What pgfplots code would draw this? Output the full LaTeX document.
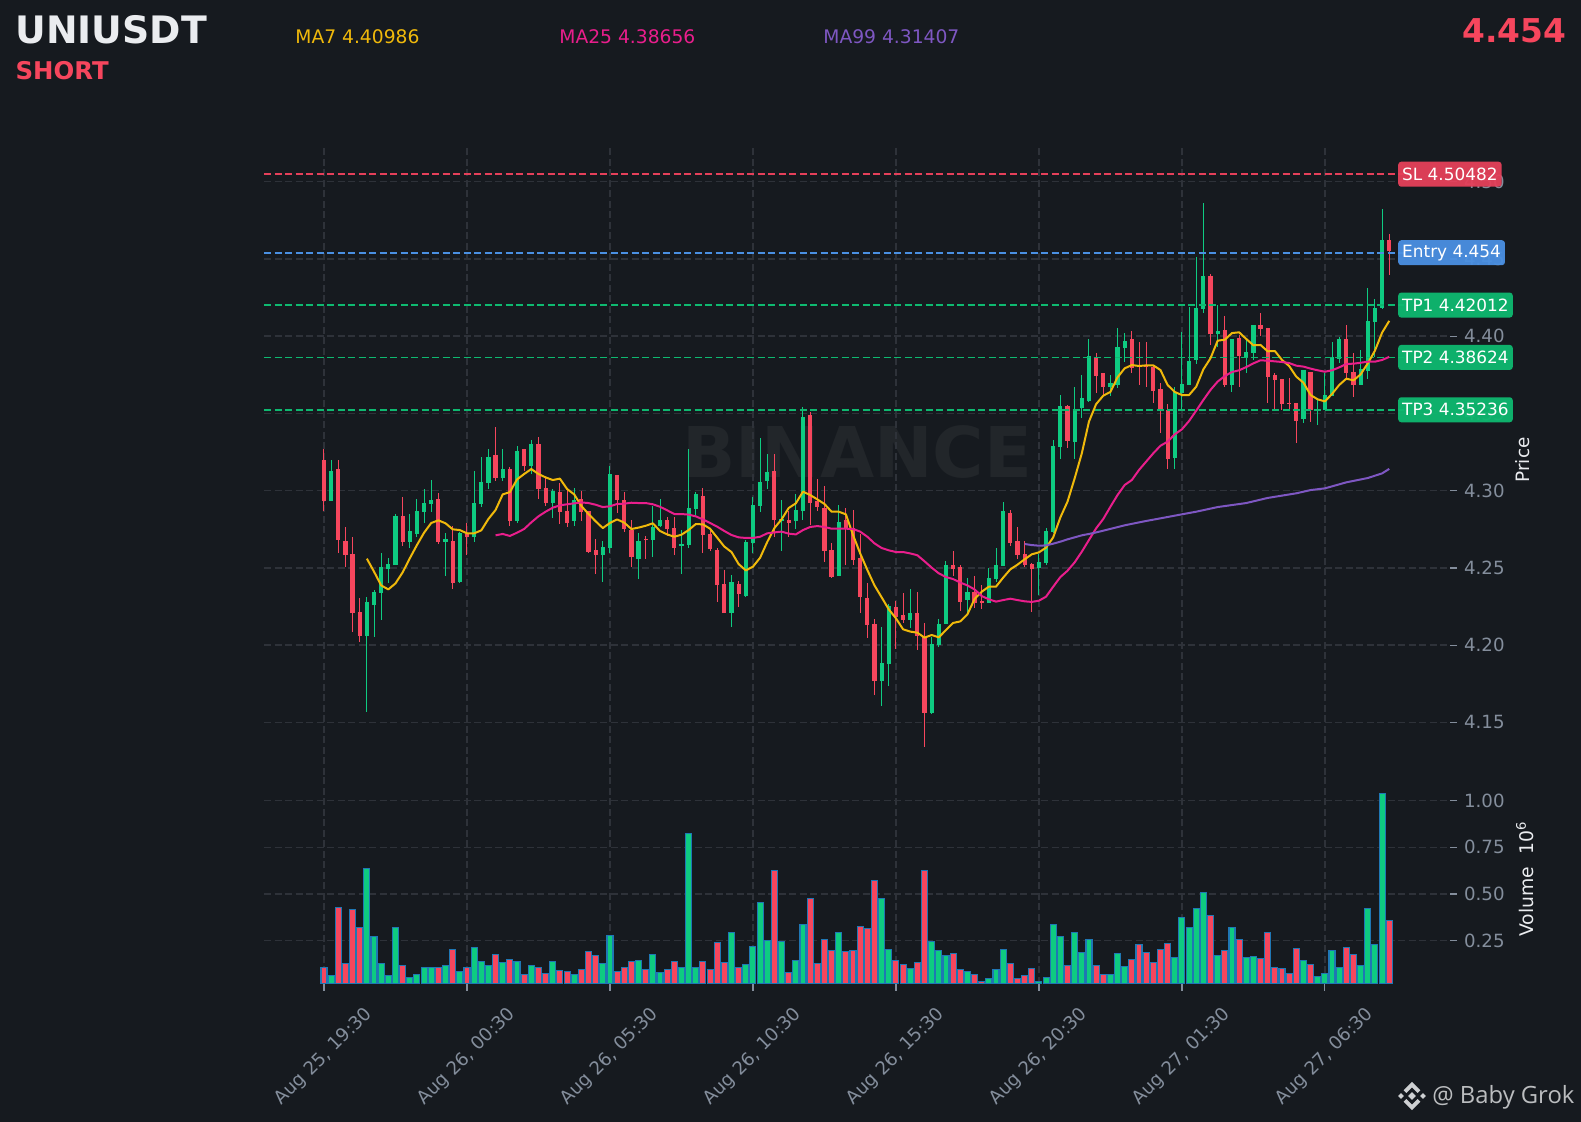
\documentclass[border=0pt]{standalone}
\usepackage{pgfplots}
\pgfplotsset{compat=1.18}
\usepackage{pgfplotstable}
\usepackage{fontspec}
\setmainfont{DejaVu Sans}
\newfontfamily\wmfont{Open Sans}
\definecolor{bgc}{HTML}{161A1F}
\definecolor{gridc}{HTML}{2E3239}
\definecolor{tickc}{HTML}{848E9C}
\definecolor{upc}{HTML}{0ECB81}
\definecolor{downc}{HTML}{F6465D}
\definecolor{edgec}{HTML}{1F77B4}
\definecolor{ma7c}{HTML}{F0B90B}
\definecolor{ma25c}{HTML}{E91E8C}
\definecolor{ma99c}{HTML}{7E57C2}
\definecolor{entryc}{HTML}{4A90E2}
\definecolor{tpc}{HTML}{0EB970}
\definecolor{slc}{HTML}{E5405A}
\definecolor{wmc}{HTML}{22262A}
\definecolor{titlec}{HTML}{EAECEF}
\def\fs#1{\fontsize{#1pt}{#1pt}\selectfont}

% index open high low close volume (volume in millions)
\pgfplotstableread{
i o h l c v
1 4.2935 4.3198 4.2935 4.3127 .0625
6 4.2059 4.2314 4.1565 4.2279 .6375
7 4.2260 4.2355 4.2051 4.2344 .273
8 4.2340 4.2594 4.2165 4.2506 .129
9 4.2493 4.2562 4.2405 4.2525 .0625
10 4.2519 4.2849 4.2519 4.2836 .321
12 4.2668 4.2847 4.2627 4.2739 .052
13 4.2720 4.2944 4.2702 4.2868 .068
14 4.2862 4.3009 4.2793 4.2920 .105
15 4.2914 4.3069 4.2864 4.2940 .105
17 4.2668 4.2724 4.2450 4.2687 .118
19 4.2409 4.2732 4.2405 4.2726 .086
21 4.2700 4.3127 4.2670 4.2920 .214
22 4.2914 4.3216 4.2896 4.3056 .139
23 4.3050 4.3268 4.3009 4.3218 .118
25 4.3082 4.3268 4.3065 4.3140 .134
27 4.2804 4.3287 4.2793 4.3257 .139
29 4.3160 4.3326 4.3106 4.3302 .118
32 4.2920 4.3009 4.2825 4.2998 .139
35 4.2804 4.3015 4.2773 4.2940 .070
39 4.2584 4.2674 4.2411 4.2635 .129
40 4.2631 4.3162 4.2594 4.3108 .279
44 4.2558 4.2724 4.2426 4.2674 .145
46 4.2681 4.2901 4.2573 4.2765 .177
47 4.2771 4.2944 4.2767 4.2810 .080
50 4.2642 4.2745 4.2463 4.2655 .107
51 4.2648 4.3268 4.2627 4.2888 .825
52 4.2881 4.2989 4.2843 4.2978 .107
57 4.2208 4.2452 4.2115 4.2409 .295
59 4.2318 4.2681 4.2314 4.2668 .123
60 4.2661 4.2957 4.2594 4.2907 .220
61 4.2901 4.3339 4.2864 4.3056 .455
62 4.3063 4.3235 4.3009 4.3121 .252
64 4.2804 4.2937 4.2612 4.2814 .246
66 4.2804 4.2976 4.2754 4.2875 .145
67 4.2868 4.3539 4.2808 4.3477 .3375
72 4.2448 4.2905 4.2448 4.2797 .295
78 4.1768 4.2120 4.1608 4.1885 .477
79 4.1878 4.2264 4.1738 4.2254 .204
82 4.2163 4.2361 4.2111 4.2208 .102
85 4.1561 4.2055 4.1552 4.2008 .246
86 4.2001 4.2167 4.1990 4.2137 .198
87 4.2137 4.2543 4.2137 4.2519 .171
90 4.2292 4.2433 4.2195 4.2344 .086
93 4.2273 4.2497 4.2273 4.2435 .048
94 4.2428 4.2627 4.2407 4.2519 .096
95 4.2512 4.2924 4.2512 4.2868 .204
100 4.2499 4.2588 4.2323 4.2538 .032
101 4.2532 4.2756 4.2521 4.2739 .054
102 4.2732 4.3328 4.2724 4.3289 .3375
103 4.3283 4.3620 4.3205 4.3548 .273
105 4.3317 4.3669 4.3205 4.3528 .295
106 4.3533 4.3749 4.3468 4.3600 .1875
107 4.3580 4.3980 4.3576 4.3872 .257
110 4.3671 4.3747 4.3615 4.3697 .070
111 4.3684 4.4050 4.3667 4.3930 .182
112 4.3924 4.4018 4.3835 4.3969 .1125
119 4.3211 4.3669 4.3138 4.3639 .161
120 4.3632 4.4029 4.3522 4.3690 .375
121 4.3684 4.4187 4.3684 4.3839 .321
122 4.3846 4.4510 4.3818 4.4182 .423
123 4.4176 4.4860 4.4148 4.4389 .509
125 4.4014 4.4202 4.3932 4.4033 .171
127 4.3684 4.3982 4.3636 4.3982 .321
129 4.3865 4.3975 4.3764 4.3898 .161
130 4.3891 4.4072 4.3846 4.4072 .166
137 4.3464 4.3781 4.3436 4.3781 .145
139 4.3518 4.3587 4.3427 4.3526 .057
140 4.3522 4.3759 4.3522 4.3619 .075
141 4.3615 4.3960 4.3615 4.3865 .198
142 4.3852 4.3997 4.3824 4.3982 .107
145 4.3684 4.3910 4.3684 4.3787 .118
146 4.3775 4.4310 4.3723 4.4098 .423
147 4.4092 4.4238 4.3867 4.4182 .230
148 4.4182 4.4821 4.4180 4.4622 1.036
}\upT
\pgfplotstableread{
i o h l c v
0 4.3198 4.3268 4.2871 4.2935 .105
2 4.3140 4.3196 4.2594 4.2683 .429
3 4.2674 4.2763 4.2504 4.2584 .129
4 4.2590 4.2698 4.2083 4.2210 .418
5 4.2215 4.2303 4.2023 4.2059 .321
11 4.2836 4.2957 4.2644 4.2668 .118
16 4.2946 4.2987 4.2653 4.2668 .105
18 4.2674 4.2773 4.2361 4.2405 .204
20 4.2720 4.2789 4.2586 4.2700 .105
24 4.3231 4.3414 4.3065 4.3082 .177
26 4.3140 4.3155 4.2773 4.2804 .150
28 4.3270 4.3270 4.3125 4.3160 .070
30 4.3302 4.3345 4.2944 4.3011 .107
31 4.3017 4.3080 4.2903 4.2920 .075
33 4.2991 4.3047 4.2786 4.2862 .091
34 4.2868 4.3009 4.2763 4.2791 .086
36 4.2946 4.2996 4.2806 4.2862 .096
37 4.2868 4.2868 4.2594 4.2603 .193
38 4.2616 4.2685 4.2463 4.2584 .171
41 4.3101 4.3101 4.2853 4.2940 .086
42 4.2940 4.2994 4.2735 4.2752 .107
43 4.2745 4.2810 4.2504 4.2571 .139
45 4.2687 4.2707 4.2560 4.2683 .096
48 4.2810 4.2827 4.2707 4.2752 .096
49 4.2758 4.2827 4.2586 4.2629 .139
53 4.2965 4.3015 4.2594 4.2713 .139
54 4.2720 4.2752 4.2612 4.2622 .096
55 4.2616 4.2627 4.2277 4.2389 .241
56 4.2396 4.2484 4.2206 4.2208 .134
58 4.2396 4.2413 4.2249 4.2331 .107
63 4.3127 4.3235 4.2698 4.2810 .627
65 4.2810 4.2868 4.2698 4.2791 .080
68 4.3490 4.3507 4.2778 4.2920 .477
69 4.2933 4.3073 4.2871 4.2894 .129
70 4.2888 4.3028 4.2538 4.2609 .257
71 4.2616 4.2663 4.2433 4.2441 .198
73 4.2810 4.2886 4.2517 4.2758 .193
74 4.2758 4.2875 4.2519 4.2551 .198
75 4.2564 4.2720 4.2206 4.2312 .327
76 4.2305 4.2405 4.2049 4.2131 .316
77 4.2137 4.2167 4.1677 4.1768 .573
80 4.2247 4.2286 4.1973 4.2182 .145
81 4.2195 4.2340 4.2141 4.2163 .123
83 4.2208 4.2342 4.1967 4.2059 .134
84 4.2053 4.2141 4.1343 4.1561 .627
88 4.2519 4.2607 4.2448 4.2493 .182
89 4.2506 4.2517 4.2223 4.2279 .096
91 4.2344 4.2446 4.2241 4.2273 .070
92 4.2286 4.2389 4.2232 4.2273 .032
96 4.2855 4.2873 4.2644 4.2661 .129
97 4.2674 4.2763 4.2560 4.2584 .048
98 4.2590 4.2672 4.2506 4.2519 .064
99 4.2525 4.2530 4.2213 4.2493 .102
104 4.3548 4.3555 4.3274 4.3320 .118
108 4.3867 4.3889 4.3634 4.3742 .118
109 4.3761 4.3761 4.3615 4.3671 .070
113 4.3982 4.4031 4.3760 4.3794 .150
114 4.3807 4.3964 4.3686 4.3798 .230
115 4.3813 4.3960 4.3673 4.3803 .1875
116 4.3800 4.3813 4.3565 4.3645 .134
117 4.3658 4.3695 4.3375 4.3522 .204
118 4.3522 4.3559 4.3138 4.3205 .236
124 4.4389 4.4402 4.3941 4.4014 .386
126 4.4040 4.4128 4.3673 4.3684 .198
128 4.3988 4.4008 4.3673 4.3872 .257
131 4.4072 4.4148 4.4001 4.4046 .155
132 4.4053 4.4053 4.3565 4.3736 .295
133 4.3749 4.3759 4.3520 4.3716 .107
134 4.3723 4.3723 4.3522 4.3561 .102
135 4.3567 4.3727 4.3522 4.3563 .075
136 4.3567 4.3567 4.3306 4.3451 .209
138 4.3768 4.3768 4.3447 4.3522 .123
143 4.3982 4.4070 4.3727 4.3762 .214
144 4.3768 4.3889 4.3608 4.3684 .177
149 4.4622 4.4659 4.4398 4.4549 .359
}\downT
\pgfplotstableread{
i v
6 4.2560
7 4.2476
8 4.2387
9 4.2361
10 4.2400
11 4.2471
12 4.2562
13 4.2648
14 4.2728
15 4.2791
16 4.2808
17 4.2789
18 4.2750
19 4.2745
20 4.2724
21 4.2724
22 4.2743
23 4.2817
24 4.2875
25 4.2976
26 4.2991
27 4.3073
28 4.3108
29 4.3140
30 4.3108
31 4.3086
32 4.3069
33 4.3078
34 4.3011
35 4.2976
36 4.2901
37 4.2849
38 4.2802
39 4.2758
40 4.2791
41 4.2814
42 4.2793
43 4.2752
44 4.2761
45 4.2773
46 4.2789
47 4.2739
48 4.2717
49 4.2702
50 4.2715
51 4.2745
52 4.2784
53 4.2782
54 4.2754
55 4.2696
56 4.2638
57 4.2603
58 4.2525
59 4.2484
60 4.2508
61 4.2566
62 4.2668
63 4.2758
64 4.2814
65 4.2888
66 4.2918
67 4.2994
68 4.2972
69 4.2944
70 4.2914
71 4.2864
72 4.2864
73 4.2847
74 4.2713
75 4.2594
76 4.2487
77 4.2387
78 4.2310
79 4.2232
80 4.2174
81 4.2103
82 4.2088
83 4.2081
84 4.2049
85 4.2066
86 4.2051
87 4.2098
88 4.2144
89 4.2154
90 4.2200
91 4.2299
92 4.2346
93 4.2379
94 4.2379
95 4.2437
96 4.2491
97 4.2521
98 4.2556
99 4.2588
100 4.2601
101 4.2631
102 4.2698
103 4.2827
104 4.2929
105 4.3080
106 4.3242
107 4.3447
108 4.3560
109 4.3615
110 4.3639
111 4.3734
112 4.3792
113 4.3813
114 4.3807
115 4.3811
116 4.3811
117 4.3781
118 4.3684
119 4.3639
120 4.3619
121 4.3619
122 4.3673
123 4.3785
124 4.3857
125 4.3971
126 4.3977
127 4.4020
128 4.4025
129 4.3982
130 4.3941
131 4.3943
132 4.3902
133 4.3904
134 4.3846
135 4.3807
136 4.3738
137 4.3699
138 4.3619
139 4.3591
140 4.3578
141 4.3626
142 4.3684
143 4.3725
144 4.3714
145 4.3753
146 4.3824
147 4.3906
148 4.4023
149 4.4099
}\maA
\pgfplotstableread{
i v
24 4.2711
25 4.2720
26 4.2707
27 4.2728
28 4.2752
29 4.2795
30 4.2834
31 4.2864
32 4.2890
33 4.2905
34 4.2912
35 4.2918
36 4.2924
37 4.2920
38 4.2909
39 4.2894
40 4.2899
41 4.2914
42 4.2916
43 4.2922
44 4.2920
45 4.2920
46 4.2912
47 4.2896
48 4.2873
49 4.2849
50 4.2849
51 4.2845
52 4.2834
53 4.2814
54 4.2791
55 4.2767
56 4.2739
57 4.2713
58 4.2698
59 4.2694
60 4.2694
61 4.2702
62 4.2724
63 4.2730
64 4.2735
65 4.2722
66 4.2717
67 4.2745
68 4.2765
69 4.2771
70 4.2765
71 4.2754
72 4.2754
73 4.2754
74 4.2752
75 4.2735
76 4.2702
77 4.2659
78 4.2629
79 4.2614
80 4.2603
81 4.2603
82 4.2594
83 4.2582
84 4.2543
85 4.2502
86 4.2465
87 4.2441
88 4.2428
89 4.2405
90 4.2387
91 4.2361
92 4.2318
93 4.2297
94 4.2282
95 4.2292
96 4.2301
97 4.2292
98 4.2284
99 4.2280
100 4.2288
101 4.2314
102 4.2379
103 4.2441
104 4.2482
105 4.2536
106 4.2605
107 4.2681
108 4.2756
109 4.2817
110 4.2896
111 4.2972
112 4.3037
113 4.3069
114 4.3134
115 4.3188
116 4.3242
117 4.3291
118 4.3317
119 4.3365
120 4.3397
121 4.3451
122 4.3518
123 4.3587
124 4.3652
125 4.3706
126 4.3742
127 4.3768
128 4.3779
129 4.3800
130 4.3824
131 4.3844
132 4.3841
133 4.3837
134 4.3833
135 4.3826
136 4.3809
137 4.3803
138 4.3790
139 4.3779
140 4.3770
141 4.3779
142 4.3798
143 4.3820
144 4.3822
145 4.3828
146 4.3835
147 4.3835
148 4.3846
149 4.3866
}\maB
\pgfplotstableread{
i v
98 4.2655
99 4.2648
100 4.2644
101 4.2646
102 4.2657
103 4.2670
104 4.2685
105 4.2698
106 4.2711
107 4.2720
108 4.2730
109 4.2741
112 4.2776
115 4.2804
117 4.2821
120 4.2847
122 4.2864
125 4.2894
129 4.2920
132 4.2953
136 4.2983
138 4.3004
140 4.3015
143 4.3054
146 4.3082
148 4.3112
149 4.3141
}\maC

\pgfplotsset{
  base/.style={
    scale only axis, width=593pt, xmin=-8.39, xmax=157.5,
    axis line style={draw=none},
    grid=major,
    grid style={color=gridc, line width=0.7pt, dash pattern=on 3.5pt off 1.75pt},
    xtick={0,20,40,60,80,100,120,140},
    tick align=outside,
    major tick length=3.5pt,
    tick style={color=tickc, line width=0.6pt},
    ytick pos=right, yticklabel pos=right,
    ticklabel style={color=tickc, font=\fs{9.1}},
    y tick label style={/pgf/number format/.cd, fixed, fixed zerofill, precision=2, assume math mode=true},
  },
  wick/.style={draw=none, mark=none, forget plot,
    error bars/.cd, y dir=both, y explicit, error mark=none,
    error bar style={solid, draw=#1, line width=0.5pt}},
  body/.style={draw=none, mark=none, forget plot,
    error bars/.cd, y dir=both, y explicit, error mark=none,
    error bar style={solid, draw=#1, line width=2.1pt}},
  hl/.style={draw=#1, line width=0.85pt, dash pattern=on 3.5pt off 1.75pt, forget plot},
  mal/.style={draw=#1, line width=1pt, line join=round, mark=none, forget plot},
  vb/.style={ybar, bar width=3pt, bar shift=0pt, fill=#1, draw=edgec, line width=0.55pt, forget plot},
}

\begin{document}
\begin{tikzpicture}[x=1pt,y=1pt]
\fill[bgc] (0,0) rectangle (790.5,561);
\useasboundingbox (0,0) rectangle (790.5,561);
% coordinates are reference pixels / 2
\node[anchor=center,text=wmc] at (428.5,335) {\fs{35}\bfseries BINANCE};

% volume panel
\begin{axis}[base, at={(132pt,69pt)}, anchor=south west,
  height=104.5pt,
  ymin=0.018, ymax=1.1375,
  ytick={0.25,0.5,0.75,1},
  xticklabels={{Aug 25, 19:30},{Aug 26, 00:30},{Aug 26, 05:30},{Aug 26, 10:30},{Aug 26, 15:30},{Aug 26, 20:30},{Aug 27, 01:30},{Aug 27, 06:30}},
  x tick label style={rotate=45, anchor=center, xshift=-23.3pt, yshift=-23.3pt},
]
\addplot[vb=upc] table[x=i,y=v] {\upT};
\addplot[vb=downc] table[x=i,y=v] {\downT};
\end{axis}

% price panel
\begin{axis}[base, at={(132pt,173.5pt)}, anchor=south west,
  height=313.5pt,
  ymin=4.1160, ymax=4.5218,
  ytick={4.15,4.20,4.25,4.30,4.35,4.40,4.45,4.50},
  xticklabels={}, major x tick style={draw=none},
]
\addplot[wick=upc] table[x=i,y=o,y error plus expr=\thisrow{h}-\thisrow{o},y error minus expr=\thisrow{o}-\thisrow{l}] {\upT};
\addplot[wick=downc] table[x=i,y=o,y error plus expr=\thisrow{h}-\thisrow{o},y error minus expr=\thisrow{o}-\thisrow{l}] {\downT};
\addplot[body=upc] table[x=i,y=o,y error plus expr=\thisrow{c}-\thisrow{o},y error minus expr=0] {\upT};
\addplot[body=downc] table[x=i,y=c,y error plus expr=\thisrow{o}-\thisrow{c},y error minus expr=0] {\downT};
\addplot[hl=slc] coordinates {(-8.39,4.50482) (151,4.50482)};
\addplot[hl=entryc] coordinates {(-8.39,4.454) (151,4.454)};
\addplot[hl=tpc] coordinates {(-8.39,4.42012) (151,4.42012)};
\addplot[hl=tpc] coordinates {(-8.39,4.38624) (151,4.38624)};
\addplot[hl=tpc] coordinates {(-8.39,4.35236) (151,4.35236)};
\addplot[mal=ma7c] table[x=i,y=v] {\maA};
\addplot[mal=ma25c] table[x=i,y=v] {\maB};
\addplot[mal=ma99c] table[x=i,y=v] {\maC};
\end{axis}

% level labels over the tick labels
\begin{axis}[scale only axis, width=593pt, height=313.5pt, at={(132pt,173.5pt)}, anchor=south west,
  xmin=-8.39, xmax=157.5, ymin=4.1160, ymax=4.5218, hide axis, clip=false]
\tikzset{lv/.style={anchor=west, rounded corners=1.5pt, fill=#1, fill opacity=0.95, text opacity=1, text=white,
   inner xsep=2pt, inner ysep=0pt, minimum height=12.5pt, font=\fs{8.45}}}
\node[lv=slc] at (axis cs:150.2,4.50482) {SL 4.50482};
\node[lv=entryc] at (axis cs:150.2,4.454) {Entry 4.454};
\node[lv=tpc] at (axis cs:150.2,4.42012) {TP1 4.42012};
\node[lv=tpc] at (axis cs:150.2,4.38624) {TP2 4.38624};
\node[lv=tpc] at (axis cs:150.2,4.35236) {TP3 4.35236};
\end{axis}

% headings
\node[anchor=base west,inner sep=0pt,text=titlec] at (7.6,539) {\fs{18.9}\bfseries UNIUSDT};
\node[anchor=base west,inner sep=0pt,text=downc] at (7.6,521) {\fs{12.2}\bfseries SHORT};
\node[anchor=base west,inner sep=0pt,text=ma7c] at (147.5,539) {\fs{9.35}MA7 4.40986};
\node[anchor=base west,inner sep=0pt,text=ma25c] at (279.5,539) {\fs{9.35}MA25 4.38656};
\node[anchor=base west,inner sep=0pt,text=ma99c] at (411.5,539) {\fs{9.35}MA99 4.31407};
\node[anchor=base east,inner sep=0pt,text=downc] at (783.3,539.5) {\fs{16.4}\bfseries 4.454};
\node[rotate=90,text=titlec] at (761.5,331) {\fs{9.2}Price};
\node[rotate=90,text=titlec] at (762.5,121.5) {\fs{9.4}Volume\ \ 10\textsuperscript{6}};

% footer mark
\begin{scope}[shift={(706,13)},x=1pt,y=1pt]
\fill[titlec!88!black] (0,-1.9)--(1.9,0)--(0,1.9)--(-1.9,0)--cycle;
\fill[titlec!88!black] (-5.5,-1.4)--(-4.1,0)--(-5.5,1.4)--(-6.9,0)--cycle;
\fill[titlec!88!black] (5.5,-1.4)--(6.9,0)--(5.5,1.4)--(4.1,0)--cycle;
\fill[titlec!88!black] (0,7.1)--(4.2,2.9)--(2.8,1.5)--(0,4.3)--(-2.8,1.5)--(-4.2,2.9)--cycle;
\fill[titlec!88!black] (0,-7.1)--(4.2,-2.9)--(2.8,-1.5)--(0,-4.3)--(-2.8,-1.5)--(-4.2,-2.9)--cycle;
\end{scope}
\node[anchor=base west,inner sep=0pt,text=titlec!80!black] at (716,9) {\wmfont\fs{11.9}@ Baby Grok};
\end{tikzpicture}
\end{document}
